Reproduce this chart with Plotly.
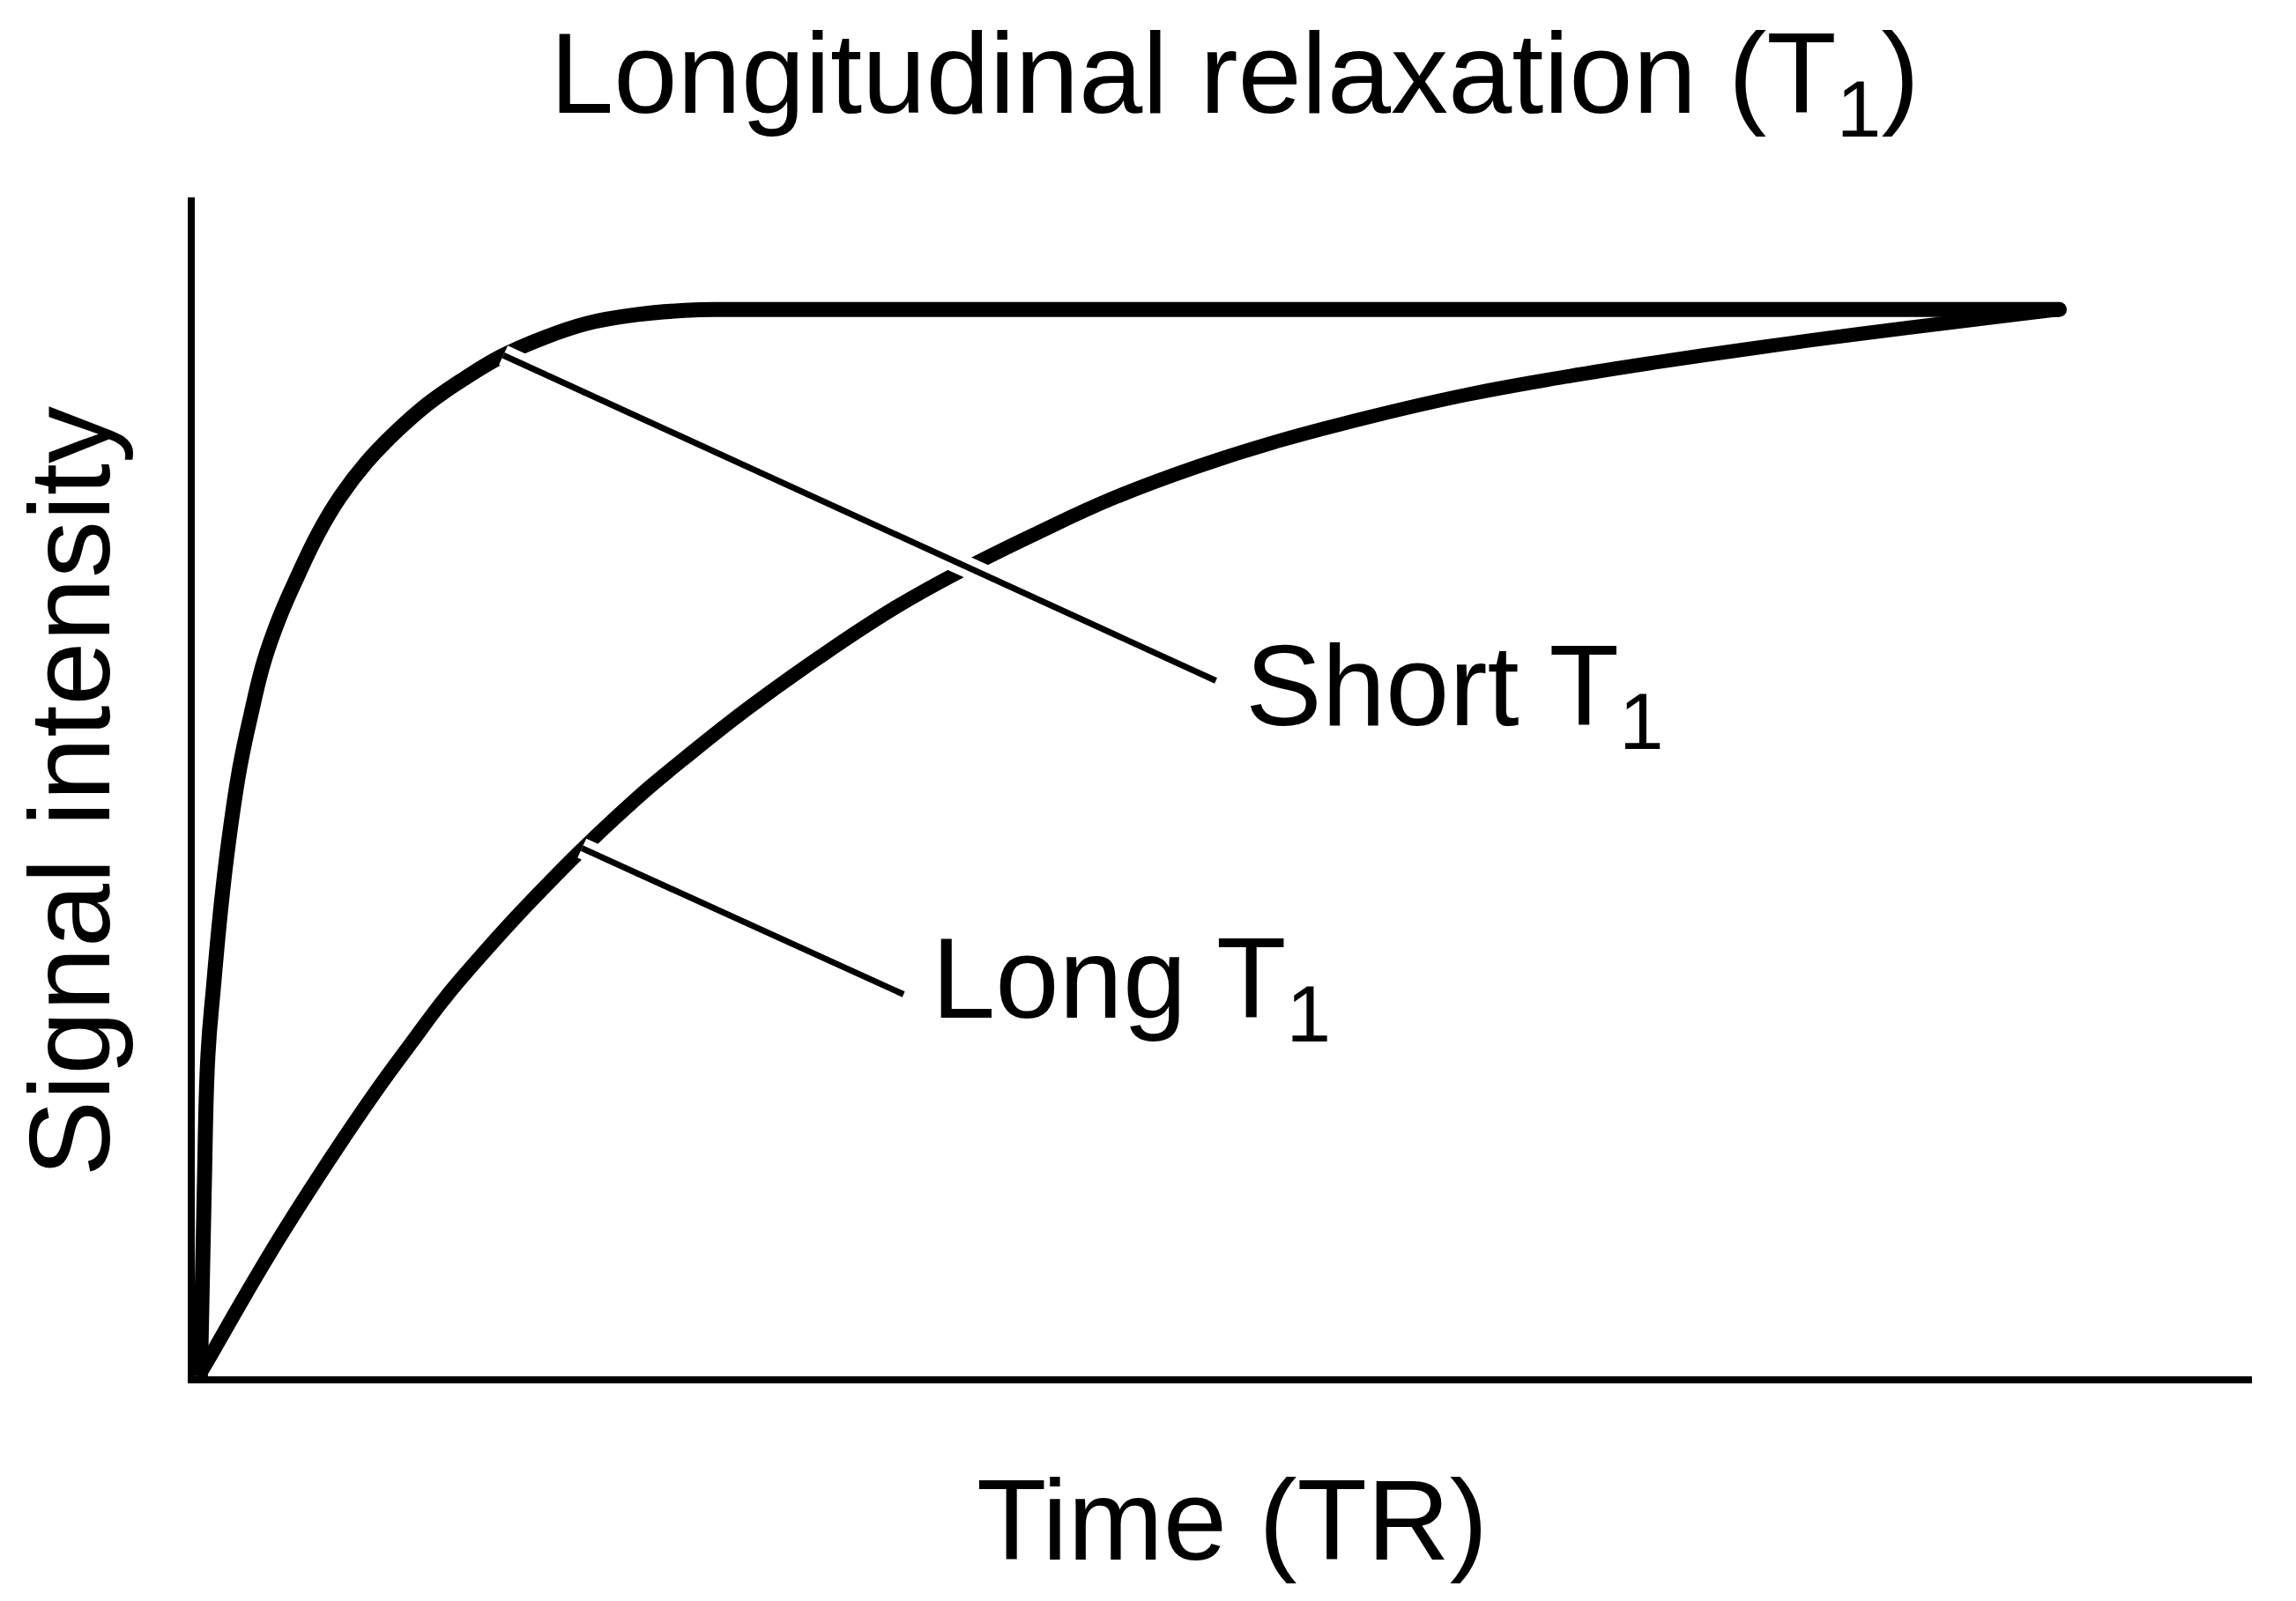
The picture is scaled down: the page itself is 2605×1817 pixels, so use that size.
import plotly.graph_objects as go

# ---- data (x: time in arbitrary units, y: signal relative to M0) ----
short_x = [0.03, 0.05, 0.07, 0.10, 0.14, 0.18, 0.24, 0.30, 0.37, 0.45, 0.55, 0.66, 0.78, 0.92,
           1.08, 1.25, 1.44, 1.64, 1.86, 2.10, 2.36, 2.62, 2.90, 9.97]
short_y = [0.000, 0.170, 0.300, 0.365, 0.440, 0.500, 0.570, 0.620, 0.670, 0.710, 0.750, 0.790, 0.825, 0.857,
           0.886, 0.912, 0.935, 0.956, 0.973, 0.987, 0.995, 0.999, 1.000, 1.000]

long_x = [0.02, 0.10, 0.26, 0.44, 0.62, 0.80, 0.98, 1.16, 1.34, 1.52, 1.71, 1.89, 2.06, 2.24, 2.43, 2.61,
          2.95, 3.34, 3.75, 4.12, 4.50, 4.91, 5.35, 5.80, 6.30, 6.80, 7.30, 7.80, 8.35, 8.90, 9.45, 9.97]
long_y = [0.000, 0.024, 0.073, 0.126, 0.176, 0.224, 0.270, 0.313, 0.355, 0.392, 0.429, 0.462, 0.492, 0.522, 0.552, 0.578,
          0.625, 0.674, 0.721, 0.757, 0.790, 0.823, 0.852, 0.877, 0.900, 0.920, 0.936, 0.950, 0.964, 0.977, 0.989, 1.000]

# leader lines (curve point -> label)
short_leader_x = [1.65, 5.46]
short_leader_y = [0.957, 0.652]
long_leader_x = [2.07, 3.79]
long_leader_y = [0.495, 0.358]

labels = ["Short T<sub>1</sub>", "Long T<sub>1</sub>"]
label_x = [5.61, 3.93]
label_y = [0.640, 0.366]

title_text = "Longitudinal relaxation (T<sub>1</sub>)"
x_title = "Time (TR)"
y_title = "Signal intensity"

FONT = "Liberation Sans, Arial, Helvetica, sans-serif"
FS = 130

fig = go.Figure()
fig.add_trace(go.Scatter(x=long_x, y=long_y, mode="lines",
                         line=dict(color="black", width=16, shape="spline", smoothing=1.2),
                         hoverinfo="skip", showlegend=False))
fig.add_trace(go.Scatter(x=short_x, y=short_y, mode="lines",
                         line=dict(color="black", width=17, shape="spline", smoothing=1.2),
                         hoverinfo="skip", showlegend=False))
# rounded end where both curves meet at the plateau
fig.add_trace(go.Scatter(x=[short_x[-1]], y=[short_y[-1]], mode="markers",
                         marker=dict(color="black", size=17, line=dict(width=0)),
                         hoverinfo="skip", showlegend=False))
for lx, ly in [(short_leader_x, short_leader_y), (long_leader_x, long_leader_y)]:
    fig.add_trace(go.Scatter(x=lx, y=ly, mode="lines", line=dict(color="white", width=24),
                             hoverinfo="skip", showlegend=False))
    fig.add_trace(go.Scatter(x=lx, y=ly, mode="lines", line=dict(color="black", width=7),
                             hoverinfo="skip", showlegend=False))

annotations = []
for t, x, y in zip(labels, label_x, label_y):
    annotations.append(dict(text=t, x=x, y=y, xref="x", yref="y", xanchor="left", yanchor="middle",
                            showarrow=False, font=dict(family=FONT, size=FS, color="black")))
annotations.append(dict(text=title_text, x=0.1718, y=1.099, xref="paper", yref="paper",
                        xanchor="left", yanchor="middle", showarrow=False,
                        font=dict(family=FONT, size=FS, color="black")))
annotations.append(dict(text=x_title, x=0.5043, y=-0.1218, xref="paper", yref="paper",
                        xanchor="center", yanchor="middle", showarrow=False,
                        font=dict(family=FONT, size=FS, color="black")))
annotations.append(dict(text=y_title, x=-0.0608, y=0.496, xref="paper", yref="paper",
                        xanchor="center", yanchor="middle", textangle=-90, showarrow=False,
                        font=dict(family=FONT, size=FS, color="black")))

axis_common = dict(showgrid=False, zeroline=False, showticklabels=False, ticks="",
                   showline=True, linecolor="black", linewidth=8, fixedrange=True)
fig.update_layout(
    width=2605, height=1817,
    margin=dict(l=221, r=50, t=224, b=255),
    paper_bgcolor="white", plot_bgcolor="white",
    xaxis=dict(range=[0, 11], **axis_common),
    yaxis=dict(range=[0, 1.105], **axis_common),
    annotations=annotations,
    showlegend=False,
)
fig.write_html("out.html")
